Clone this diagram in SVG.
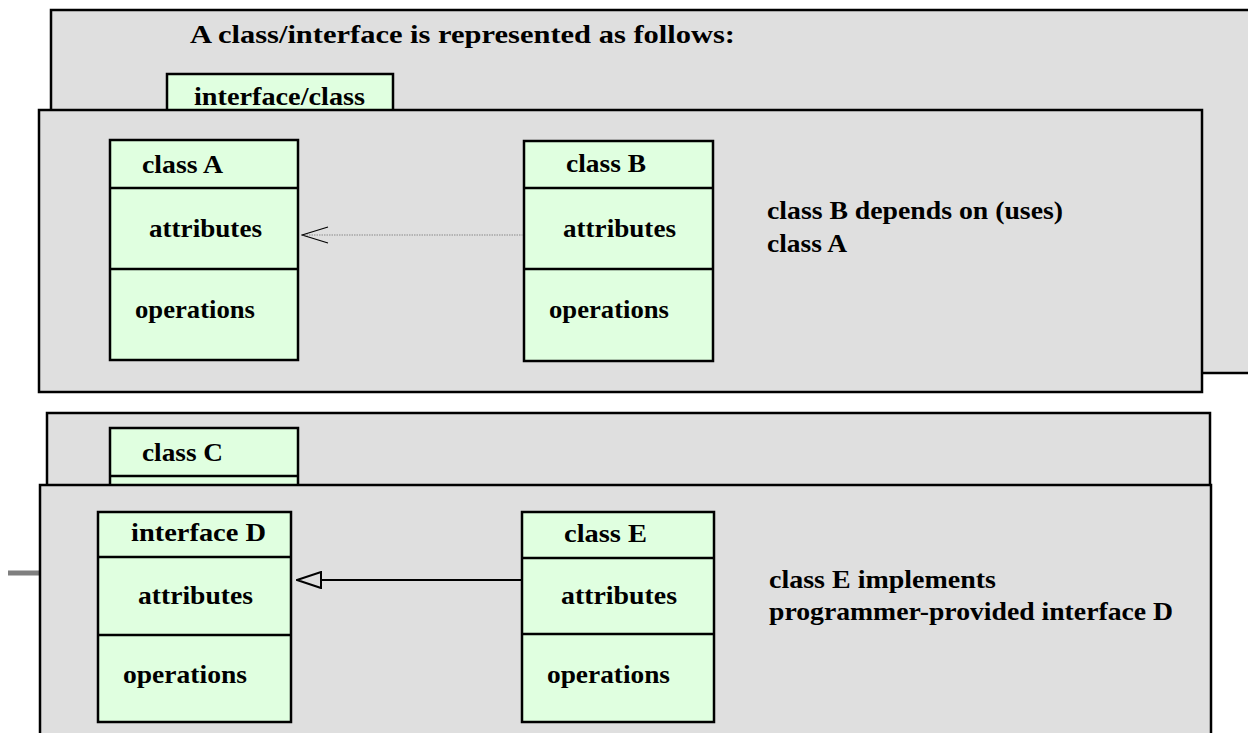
<svg xmlns="http://www.w3.org/2000/svg" width="1248" height="733" viewBox="0 0 1248 733">
<style>
.panel{fill:#dfdfdf;stroke:#000;stroke-width:2.5}
.box{fill:#e0ffe0;stroke:#000;stroke-width:2.5}
.div{stroke:#000;stroke-width:2.5}
text{font-family:"Liberation Serif","Times New Roman",serif;font-weight:bold;font-size:26px;fill:#000}
</style>
<defs>
<marker id="open" viewBox="0 0 28 18" refX="27" refY="9" markerWidth="28" markerHeight="18" markerUnits="userSpaceOnUse" orient="auto">
<path d="M1,1 L27,9 L1,17" fill="none" stroke="#000" stroke-width="1.2"/>
</marker>
<marker id="tri" viewBox="0 0 26 18" refX="25" refY="9" markerWidth="26" markerHeight="18" markerUnits="userSpaceOnUse" orient="auto">
<path d="M1,1 L25,9 L1,17 Z" fill="#dfdfdf" stroke="#000" stroke-width="2"/>
</marker>
</defs>

<g id="panel1">
<rect class="panel" x="51" y="10" width="1220" height="363"/>
<text x="190" y="43" textLength="545" lengthAdjust="spacingAndGlyphs">A class/interface is represented as follows:</text>
</g>
<g id="interface-class">
<rect class="box" x="167" y="74" width="226" height="80"/>
<text x="194" y="105" textLength="171" lengthAdjust="spacingAndGlyphs">interface/class</text>
</g>

<g id="panel2">
<rect class="panel" x="39" y="110" width="1163" height="282"/>
<text x="767" y="219" textLength="296" lengthAdjust="spacingAndGlyphs">class B depends on (uses)</text>
<text x="767" y="252" textLength="80" lengthAdjust="spacingAndGlyphs">class A</text>
</g>
<g id="classA">
<rect class="box" x="110" y="140" width="188" height="220"/>
<line class="div" x1="110" y1="188" x2="298" y2="188"/>
<line class="div" x1="110" y1="269" x2="298" y2="269"/>
<text x="142" y="173" textLength="81" lengthAdjust="spacingAndGlyphs">class A</text>
<text x="149" y="237" textLength="113" lengthAdjust="spacingAndGlyphs">attributes</text>
<text x="135" y="318" textLength="120" lengthAdjust="spacingAndGlyphs">operations</text>
</g>
<g id="classB">
<rect class="box" x="524" y="141" width="189" height="220"/>
<line class="div" x1="524" y1="188" x2="713" y2="188"/>
<line class="div" x1="524" y1="269" x2="713" y2="269"/>
<text x="566" y="172" textLength="80" lengthAdjust="spacingAndGlyphs">class B</text>
<text x="563" y="237" textLength="113" lengthAdjust="spacingAndGlyphs">attributes</text>
<text x="549" y="318" textLength="120" lengthAdjust="spacingAndGlyphs">operations</text>
</g>
<g id="connectors1">
<line x1="523" y1="235" x2="302" y2="235" stroke="#8a8a8a" stroke-width="1.2" stroke-dasharray="1.5 1" marker-end="url(#open)"/>
</g>

<g id="greyline">
<line x1="8" y1="573" x2="41" y2="573" stroke="#7f7f7f" stroke-width="5"/>
</g>

<g id="panel3">
<rect class="panel" x="47" y="413" width="1163" height="120"/>
</g>
<g id="classC">
<rect class="box" x="110" y="428" width="188" height="100"/>
<line class="div" x1="110" y1="476" x2="298" y2="476"/>
<text x="142" y="461" textLength="81" lengthAdjust="spacingAndGlyphs">class C</text>
</g>

<g id="panel4">
<rect class="panel" x="40" y="485" width="1171" height="270"/>
<text x="769" y="588" textLength="227" lengthAdjust="spacingAndGlyphs">class E implements</text>
<text x="769" y="620" textLength="404" lengthAdjust="spacingAndGlyphs">programmer-provided interface D</text>
</g>
<g id="interfaceD">
<rect class="box" x="98" y="512" width="193" height="210"/>
<line class="div" x1="98" y1="557" x2="291" y2="557"/>
<line class="div" x1="98" y1="635" x2="291" y2="635"/>
<text x="131" y="541" textLength="135" lengthAdjust="spacingAndGlyphs">interface D</text>
<text x="138" y="604" textLength="115" lengthAdjust="spacingAndGlyphs">attributes</text>
<text x="123" y="683" textLength="124" lengthAdjust="spacingAndGlyphs">operations</text>
</g>
<g id="classE">
<rect class="box" x="522" y="512" width="192" height="210"/>
<line class="div" x1="522" y1="558" x2="714" y2="558"/>
<line class="div" x1="522" y1="634" x2="714" y2="634"/>
<text x="564" y="542" textLength="83" lengthAdjust="spacingAndGlyphs">class E</text>
<text x="561" y="604" textLength="116" lengthAdjust="spacingAndGlyphs">attributes</text>
<text x="547" y="683" textLength="123" lengthAdjust="spacingAndGlyphs">operations</text>
</g>
<g id="connectors2">
<line x1="521" y1="580" x2="297" y2="580" stroke="#000" stroke-width="2" marker-end="url(#tri)"/>
</g>
</svg>
